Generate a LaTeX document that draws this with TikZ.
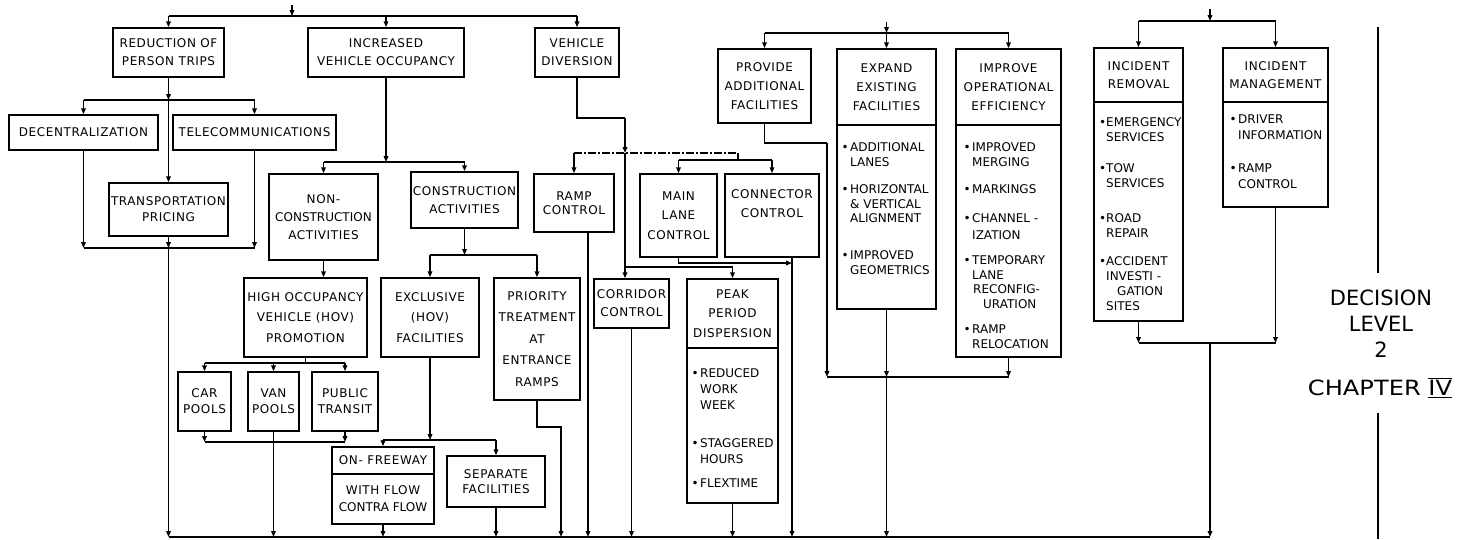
\documentclass[tikz,border=0pt]{standalone}
\usepackage{fontspec}
\setmainfont{DejaVu Sans}
\newfontfamily\widefont[LetterSpace=5.0]{DejaVu Sans}
\usepackage{graphicx}
\usetikzlibrary{arrows.meta}

\tikzset{
  ln/.style={line width=1.6pt},
  arr/.style={line width=1.6pt, -{Triangle[length=6pt,width=4.6pt]}},
  dashln/.style={line width=1.1pt, dash pattern=on 8pt off 2pt on 2pt off 2pt},
  boxln/.style={line width=1.5pt},
  box/.style={draw, line width=1.5pt, inner sep=0pt, align=center},
  txt/.style={inner sep=0pt, align=center},
  item/.style={inner sep=0pt, anchor=north west, align=left},
  siderule/.style={line width=1.3pt},
  big/.style={inner sep=0pt, align=center, font=\fontsize{21}{26}\selectfont},
}

% box: [line spacing] name x1 y1 x2 y2 text
\newcommand\mkbox[7][18]{%
  \node[box, font=\widefont\fontsize{12}{#1}\selectfont, minimum width={#5-#3}, minimum height={#6-#4}]
    (#2) at ({(#3+#5)/2},{(#4+#6)/2}) {#7};}
% box with title section: [line spacing] name x1 y1 x2 y2 ydivider title
\newcommand\mkdbox[8][18]{%
  \node[box, minimum width={#5-#3}, minimum height={#6-#4}]
    (#2) at ({(#3+#5)/2},{(#4+#6)/2}) {};
  \draw[boxln] (#2.west |- 0,#7) -- (#2.east |- 0,#7);
  \node[txt, font=\widefont\fontsize{12}{#1}\selectfont] (#2-t) at ({(#3+#5)/2},{(#4+#7)/2}) {#8};}
% bulleted entry: [line spacing] name x ycentre text
\newcommand\mkitem[5][14.5]{%
  \node[item, font=\fontsize{12}{#1}\selectfont] (#2) at (#3,{#4-4.4}) {#5};}
\newcommand\bul{\llap{\textbullet\kern1.5pt}}
\newcommand\romiv{\setbox0\hbox{IV}\rlap{\rule[-2.5pt]{\wd0}{1.6pt}}\rlap{\rule[\dimexpr\ht0+1pt\relax]{\wd0}{1.6pt}}\box0}

\begin{document}
\begin{tikzpicture}[x=1pt, y=-1pt]
\fill[white] (0,0) rectangle (1464,539);
\useasboundingbox (0,0) rectangle (1464,539);

% ---------- boxes ----------
\mkbox{red}{113}{28}{224}{77}{REDUCTION OF\\PERSON TRIPS}
\mkbox{inc}{308}{28}{464}{77}{INCREASED\\VEHICLE OCCUPANCY}
\mkbox{div}{535}{28}{619}{77}{VEHICLE\\DIVERSION}
\mkbox{dec}{9}{115}{158}{150}{DECENTRALIZATION}
\mkbox{tel}{173}{115}{336}{150}{TELECOMMUNICATIONS}
\mkbox[16]{tp}{109}{183}{228}{236}{TRANSPORTATION\\PRICING}
\mkbox{nonc}{269}{174}{378}{260}{NON-\\{\normalfont CONSTRUCTION}\\ACTIVITIES}
\mkbox{cons}{411}{172}{518}{228}{CONSTRUCTION\\ACTIVITIES}
\mkbox[20.5]{hov}{244}{278}{367}{357}{HIGH OCCUPANCY\\VEHICLE (HOV)\\PROMOTION}
\mkbox[16]{car}{178}{372}{231}{431}{CAR\\POOLS}
\mkbox[16]{van}{248}{372}{299}{431}{VAN\\POOLS}
\mkbox[16]{pub}{312}{372}{378}{431}{PUBLIC\\TRANSIT}
\mkbox[20.5]{exc}{381}{278}{479}{357}{EXCLUSIVE\\(HOV)\\FACILITIES}
\mkbox[21.5]{pri}{494}{278}{580}{400}{PRIORITY\\TREATMENT\\AT\\ENTRANCE\\RAMPS}
\mkdbox{onf}{332}{447}{434}{524}{474}{ON- FREEWAY}
\node[txt, font=\widefont\fontsize{12}{17}\selectfont] (onf-b) at (383,498.5) {WITH FLOW\\{\normalfont CONTRA FLOW}};
\mkbox[15.5]{sep}{447}{456}{545}{507}{SEPARATE\\FACILITIES}
\mkbox[14]{ramp}{534}{174}{614}{232}{RAMP\\CONTROL}
\mkbox[19.5]{main}{640}{174}{717}{257}{MAIN\\LANE\\CONTROL}
\mkbox[19]{conn}{725}{174}{819}{257}{CONNECTOR\\CONTROL\\\strut}
\mkbox{corr}{594}{279}{669}{328}{CORRIDOR\\CONTROL}
\mkdbox[19.5]{peak}{687}{279}{778}{503}{348}{PEAK\\PERIOD\\DISPERSION}
\mkbox[19]{prov}{718}{49}{811}{123}{PROVIDE\\ADDITIONAL\\FACILITIES}
\mkdbox[19]{exp}{837}{49}{936}{309}{125}{EXPAND\\EXISTING\\FACILITIES}
\mkdbox[19]{imp}{956}{49}{1061}{357}{125}{IMPROVE\\OPERATIONAL\\EFFICIENCY}
\mkdbox{rem}{1094}{48}{1183}{321}{102}{INCIDENT\\REMOVAL}
\mkdbox{man}{1223}{48}{1328}{207}{102}{INCIDENT\\MANAGEMENT}

% ---------- bulleted entries ----------
\mkitem[16]{peak-a}{700}{373}{\bul REDUCED\\WORK\\WEEK}
\mkitem[16]{peak-b}{700}{443}{\bul STAGGERED\\HOURS}
\mkitem{peak-c}{700}{483}{\bul FLEXTIME}
\mkitem{exp-a}{850}{147}{\bul ADDITIONAL\\LANES}
\mkitem{exp-b}{850}{189}{\bul HORIZONTAL\\\& VERTICAL\\ALIGNMENT}
\mkitem{exp-c}{850}{255}{\bul IMPROVED\\GEOMETRICS}
\mkitem{imp-a}{972}{147}{\bul IMPROVED\\MERGING}
\mkitem{imp-b}{972}{189}{\bul MARKINGS}
\mkitem[16.5]{imp-c}{972}{218}{\bul CHANNEL -\\IZATION}
\mkitem{imp-d}{972}{260}{\bul TEMPORARY\\LANE\\\hspace{1pt}RECONFIG-\\\hspace{11pt}URATION}
\mkitem{imp-e}{972}{329}{\bul RAMP\\RELOCATION}
\mkitem{rem-a}{1106}{122}{\llap{\textbullet}EMERGENCY\\SERVICES}
\mkitem{rem-b}{1106}{168}{\llap{\textbullet}TOW\\SERVICES}
\mkitem{rem-c}{1106}{218}{\llap{\textbullet}ROAD\\REPAIR}
\mkitem[14.8]{rem-d}{1106}{261}{\llap{\textbullet}ACCIDENT\\INVESTI -\\\hspace{11pt}GATION\\SITES}
\mkitem[16]{man-a}{1238}{119}{\bul DRIVER\\INFORMATION}
\mkitem[16]{man-b}{1238}{168}{\bul RAMP\\CONTROL}

% ---------- level label ----------
\node[big] (lvl) at (1381,324) {DECISION\\LEVEL\\2};
\node[big] (chap) at (1380,388) {\scalebox{1.15}[1]{CHAPTER \romiv}};
\coordinate (r1) at (1378,27);
\coordinate (r2) at (1378,273);
\coordinate (r3) at (1378,413);
\coordinate (r4) at (1378,539);
\draw[siderule] (r1) -- (r2);
\draw[siderule] (r3) -- (r4);

% ---------- common collector at the foot ----------
\coordinate (bl) at (168.5,537);
\coordinate (br) at (1210,537);
\draw[ln] (bl) -- (br);

% ---------- demand side ----------
\coordinate (in1) at (292,5);
\coordinate (bus1) at (292,16);
\draw[arr] (in1) -- (bus1);
\draw[ln] (red.north |- bus1) -- (div.north |- bus1);
\draw[arr] (red.north |- bus1) -- (red.north);
\draw[arr] (inc.north |- bus1) -- (inc.north);
\draw[arr] (div.north |- bus1) -- (div.north);

\coordinate (j1) at (168.5,100);
\draw[arr] (red.south) -- (j1);
\draw[arr] (j1) -- (tp.north);
\draw[ln] (dec.north |- j1) -- (tel.north |- j1);
\draw[arr] (dec.north |- j1) -- (dec.north);
\draw[arr] (tel.north |- j1) -- (tel.north);
\coordinate (j2) at (168.5,248);
\draw[arr] (dec.south) -- (dec.south |- j2);
\draw[arr] (tel.south) -- (tel.south |- j2);
\draw[ln] (dec.south |- j2) -- (tel.south |- j2);
\draw[arr] (tp.south) -- (j2);
\draw[arr] (j2) -- (bl);

\coordinate (j3) at (386,162);
\draw[arr] (inc.south) -- (j3);
\draw[ln] (nonc.north |- j3) -- (cons.north |- j3);
\draw[arr] (nonc.north |- j3) -- (nonc.north);
\draw[arr] (cons.north |- j3) -- (cons.north);
\draw[arr] (nonc.south) -- (nonc.south |- hov.north);

\coordinate (j4) at (305.5,363);
\draw[ln] (hov.south) -- (j4);
\draw[ln] (car.north |- j4) -- (pub.north |- j4);
\draw[arr] (car.north |- j4) -- (car.north);
\draw[arr] (van.north |- j4) -- (van.north);
\draw[arr] (pub.north |- j4) -- (pub.north);
\coordinate (j5) at (273.5,442);
\draw[arr] (car.south) -- (car.south |- j5);
\draw[arr] (pub.south) -- (pub.south |- j5);
\draw[ln] (car.south |- j5) -- (pub.south |- j5);
\draw[arr] (van.south) -- (van.south |- bl);

\coordinate (j6) at (464.5,255);
\draw[arr] (cons.south) -- (j6);
\draw[ln] (exc.north |- j6) -- (pri.north |- j6);
\draw[arr] (exc.north |- j6) -- (exc.north);
\draw[arr] (pri.north |- j6) -- (pri.north);
\coordinate (j7) at (430,440);
\draw[arr] (exc.south) -- (j7);
\draw[ln] (onf.north |- j7) -- (sep.north |- j7);
\draw[arr] (onf.north |- j7) -- (onf.north);
\draw[arr] (sep.north |- j7) -- (sep.north);
\draw[arr] (onf.south) -- (onf.south |- bl);
\draw[arr] (sep.south) -- (sep.south |- bl);
\coordinate (k1) at (561,427);
\draw[arr] (pri.south) |- (k1) -- (k1 |- bl);

% ---------- vehicle diversion ----------
\coordinate (x588) at (588,0);
\draw[arr] (ramp.south -| x588) -- (x588 |- bl);
\coordinate (k2) at (625,118);
\coordinate (k3) at (625,153);
\coordinate (k4) at (738,153);
\coordinate (k5) at (738,160);
\draw[ln] (div.south) |- (k2);
\draw[arr] (k2) -- (k3);
\draw[dashln] (ramp.north |- k3) -- (k4);
\draw[ln] (k4) -- (k5);
\draw[arr] (ramp.north |- k3) -- (ramp.north);
\draw[ln] (main.north |- k5) -- (conn.north |- k5);
\draw[arr] (main.north |- k5) -- (main.north);
\draw[arr] (conn.north |- k5) -- (conn.north);
\coordinate (k6) at (625,267);
\draw[ln] (k3) -- (k6);
\draw[ln] (k6) -- (peak.north |- k6);
\draw[arr] (k6) -- (k6 |- corr.north);
\draw[arr] (peak.north |- k6) -- (peak.north);
\draw[arr] (corr.south) -- (corr.south |- bl);
\draw[arr] (peak.south) -- (peak.south |- bl);
\coordinate (x792) at (792,0);
\coordinate (k7) at (792,263);
\draw[arr] (main.south) |- (k7);
\draw[arr] (conn.south -| x792) -- (x792 |- bl);

% ---------- supply side ----------
\coordinate (in2) at (886.5,22);
\coordinate (bus2) at (886.5,33);
\draw[arr] (in2) -- (bus2);
\draw[ln] (prov.north |- bus2) -- (imp.north |- bus2);
\draw[arr] (prov.north |- bus2) -- (prov.north);
\draw[arr] (exp.north |- bus2) -- (exp.north);
\draw[arr] (imp.north |- bus2) -- (imp.north);
\coordinate (k8) at (827,143);
\coordinate (k9) at (827,377);
\draw[ln] (prov.south) |- (k8);
\draw[arr] (k8) -- (k9);
\draw[ln] (k9) -- (imp.south |- k9);
\draw[arr] (imp.south) -- (imp.south |- k9);
\draw[arr] (exp.south) -- (exp.south |- k9);
\draw[arr] (exp.south |- k9) -- (exp.south |- bl);

% ---------- incidents ----------
\coordinate (in3) at (1210,9);
\coordinate (bus3) at (1210,21);
\draw[arr] (in3) -- (bus3);
\draw[ln] (rem.north |- bus3) -- (man.north |- bus3);
\draw[arr] (rem.north |- bus3) -- (rem.north);
\draw[arr] (man.north |- bus3) -- (man.north);
\coordinate (k10) at (1210,343);
\draw[arr] (rem.south) -- (rem.south |- k10);
\draw[arr] (man.south) -- (man.south |- k10);
\draw[ln] (rem.south |- k10) -- (man.south |- k10);
\draw[arr] (k10) -- (br);
\end{tikzpicture}
\end{document}
